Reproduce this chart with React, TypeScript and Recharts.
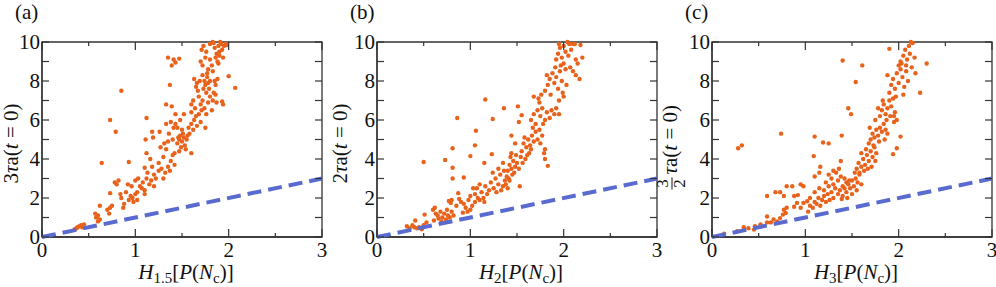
import React from "react";
import { Label, ReferenceArea, Scatter, ScatterChart, XAxis, YAxis } from "recharts";

type Pt = [number, number];

const xTicks = [0, 0.5, 1, 1.5, 2, 2.5, 3];
const yTicks = [0, 1, 2, 3, 4, 5, 6, 7, 8, 9, 10];
const diagonal = [
  { x: 0, y: 0 },
  { x: 3, y: 3 },
];

// (a) 3τa(t=0) vs H_1.5
const pointsA: Pt[] = [
  [0.35, 0.4], [0.37, 0.45], [0.38, 0.5], [0.4, 0.55], [0.42, 0.6], [0.43, 0.5], [0.45, 0.65],
  [0.57, 1.2], [0.58, 1.0], [0.6, 1.1], [0.62, 0.9], [0.6, 0.8], [0.62, 1.6], [0.7, 1.4], [0.72, 1.2],
  [0.75, 1.6], [0.73, 1.5], [0.73, 2.25], [0.78, 2.8], [0.8, 2.7], [0.82, 2.9],
  [0.85, 2.0], [0.87, 1.5], [0.9, 2.3], [0.93, 1.9], [0.95, 2.1], [0.97, 2.0], [1.0, 2.2], [1.02, 1.9],
  [0.98, 1.8], [0.96, 2.6], [1.0, 2.9], [1.03, 3.0], [0.92, 2.7], [0.88, 1.7], [0.84, 2.2],
  [0.73, 6.0], [0.79, 5.4], [0.85, 7.5], [0.64, 3.8], [0.93, 3.85],
  [1.02, 2.3], [1.05, 2.6], [1.08, 2.8], [1.1, 2.4], [1.12, 3.0], [1.15, 2.7], [1.1, 2.2], [1.07, 2.5],
  [1.13, 3.3], [1.17, 2.9], [1.18, 3.6], [1.2, 3.2], [1.22, 3.0], [1.25, 3.4], [1.2, 2.6],
  [1.11, 5.0], [1.12, 4.3], [1.12, 6.1], [1.19, 5.1], [1.1, 3.55], [1.16, 4.0], [1.18, 5.4],
  [1.25, 3.8], [1.28, 3.5], [1.3, 4.1], [1.32, 3.3], [1.35, 3.6], [1.38, 3.9], [1.4, 4.2], [1.37, 3.4],
  [1.33, 4.5], [1.42, 3.7], [1.3, 3.0], [1.27, 4.6],
  [1.26, 5.4], [1.33, 6.8], [1.39, 6.7], [1.35, 9.2], [1.37, 7.8], [1.41, 9.1], [1.47, 9.15], [1.39, 8.8], [1.43, 8.95],
  [1.45, 4.8], [1.47, 5.0], [1.48, 5.2], [1.5, 4.9], [1.52, 5.1], [1.53, 4.7], [1.55, 5.0], [1.49, 4.6],
  [1.51, 5.3], [1.46, 5.1], [1.54, 4.5], [1.5, 5.5], [1.47, 4.4], [1.56, 5.2], [1.43, 5.8], [1.45, 5.6],
  [1.48, 6.0], [1.4, 5.0], [1.42, 4.3], [1.52, 6.3],
  [1.33, 5.8], [1.38, 5.9], [1.36, 5.3], [1.41, 5.6], [1.43, 6.3], [1.35, 4.9], [1.31, 4.8],
  [1.57, 5.6], [1.6, 5.8], [1.62, 5.5], [1.63, 6.0], [1.65, 6.2], [1.6, 6.4], [1.58, 5.3], [1.66, 5.7],
  [1.64, 6.6], [1.68, 6.3], [1.7, 5.9], [1.62, 7.0], [1.6, 6.8], [1.75, 5.6], [1.76, 6.3], [1.6, 4.3],
  [1.68, 7.2], [1.7, 6.8], [1.72, 7.0], [1.74, 6.6], [1.76, 7.4], [1.78, 6.9], [1.8, 7.2], [1.82, 6.5],
  [1.73, 7.6], [1.75, 7.8], [1.71, 6.5], [1.79, 7.6], [1.83, 7.0], [1.86, 7.3], [1.87, 6.9],
  [1.63, 8.1], [1.65, 7.7], [1.67, 7.5], [1.69, 8.0], [1.72, 8.3], [1.74, 8.0], [1.77, 8.4], [1.66, 7.9],
  [1.7, 9.0], [1.72, 8.8], [1.75, 9.2], [1.78, 8.6], [1.8, 9.1], [1.83, 8.5], [1.77, 8.2], [1.82, 8.8],
  [1.71, 9.6], [1.73, 9.8], [1.76, 9.5], [1.8, 9.9], [1.83, 10.0], [1.85, 9.7], [1.87, 9.4], [1.89, 9.8],
  [1.9, 9.5], [1.92, 9.9], [1.86, 9.2], [1.88, 9.0], [1.9, 9.3], [1.93, 9.6], [1.95, 9.8], [1.97, 9.9],
  [1.84, 9.95], [1.91, 10.0], [1.94, 9.2], [1.89, 8.9],
  [1.98, 9.85], [2.0, 8.25], [2.07, 7.65], [1.93, 6.95], [1.94, 6.8], [1.86, 7.8], [1.88, 8.1],
  [1.84, 7.4], [1.85, 8.0], [1.8, 8.0], [1.78, 7.9],
];

// (b) 2τa(t=0) vs H_2
const pointsB: Pt[] = [
  [0.32, 0.55], [0.35, 0.45], [0.4, 0.5], [0.43, 0.45], [0.45, 0.5], [0.5, 0.6], [0.48, 0.4], [0.38, 0.6],
  [0.41, 0.85], [0.53, 0.75], [0.5, 3.85], [0.51, 1.15],
  [0.6, 1.4], [0.62, 1.5], [0.63, 1.2], [0.65, 1.1], [0.66, 0.95], [0.68, 1.3], [0.7, 1.0], [0.72, 1.2],
  [0.74, 0.9], [0.76, 1.1], [0.78, 1.0], [0.8, 1.3], [0.82, 1.1], [0.61, 0.85], [0.69, 0.8], [0.75, 1.4],
  [0.77, 1.85], [0.8, 1.9], [0.79, 1.75],
  [0.87, 2.25], [0.88, 1.95], [0.9, 1.8], [0.85, 1.6], [0.93, 1.7], [0.95, 1.5], [0.97, 1.3], [0.92, 1.25],
  [1.0, 1.4], [1.02, 1.6], [0.98, 1.9], [1.0, 2.1], [1.05, 1.8],
  [0.73, 3.95], [0.81, 4.55], [0.81, 3.55], [0.81, 3.0], [0.93, 3.05], [0.86, 6.1], [1.0, 4.15],
  [1.05, 4.7], [1.06, 5.45], [1.16, 7.05], [1.24, 6.05], [1.23, 4.25], [1.15, 3.8],
  [1.05, 2.2], [1.07, 2.5], [1.1, 1.9], [1.12, 2.3], [1.14, 2.0], [1.16, 2.6], [1.18, 2.2], [1.2, 2.4],
  [1.1, 2.7], [1.08, 2.0], [1.15, 1.8], [1.03, 2.5],
  [1.22, 2.8], [1.25, 2.5], [1.27, 3.0], [1.3, 2.7], [1.32, 3.2], [1.35, 2.6], [1.37, 2.9], [1.39, 3.1],
  [1.4, 2.5], [1.28, 2.3], [1.33, 2.4], [1.36, 3.4], [1.24, 3.3], [1.38, 2.7], [1.42, 2.9], [1.3, 3.5],
  [1.4, 3.4], [1.42, 3.7], [1.44, 3.5], [1.46, 3.9], [1.48, 3.6], [1.45, 3.2], [1.5, 3.8], [1.43, 4.1],
  [1.47, 3.3], [1.49, 4.2], [1.41, 3.0], [1.52, 3.5], [1.53, 2.6], [1.35, 3.8],
  [1.36, 6.6], [1.51, 6.7], [1.44, 5.2], [1.44, 4.3], [1.52, 5.9], [1.55, 6.25], [1.48, 4.8],
  [1.55, 4.4], [1.57, 4.8], [1.6, 4.6], [1.62, 5.0], [1.64, 4.7], [1.66, 5.2], [1.68, 4.9], [1.7, 5.4],
  [1.58, 5.1], [1.61, 4.2], [1.65, 4.5], [1.72, 5.0], [1.74, 5.5], [1.67, 5.6], [1.59, 4.0], [1.63, 4.3],
  [1.75, 4.8], [1.77, 5.2], [1.56, 3.8], [1.54, 4.1],
  [1.79, 4.3], [1.8, 4.0], [1.83, 3.65], [1.8, 4.5],
  [1.65, 6.0], [1.68, 6.3], [1.7, 5.8], [1.72, 6.5], [1.75, 6.2], [1.77, 6.6], [1.8, 6.0], [1.82, 6.4],
  [1.85, 6.1], [1.87, 6.5], [1.9, 6.3], [1.92, 6.6], [1.95, 6.3], [1.78, 5.8], [1.74, 6.9],
  [1.68, 7.2], [1.73, 7.1], [1.76, 7.3],
  [1.8, 7.5], [1.83, 7.8], [1.85, 8.1], [1.88, 8.4], [1.9, 7.9], [1.92, 8.2], [1.94, 7.6], [1.96, 8.5],
  [1.98, 8.0], [1.82, 8.3], [1.86, 7.3], [1.91, 8.7], [1.99, 7.4], [2.0, 7.2], [1.95, 7.0],
  [1.92, 9.1], [1.94, 9.4], [1.96, 9.7], [1.98, 9.2], [2.0, 9.8], [2.02, 9.5], [2.04, 10.0], [2.06, 9.9],
  [2.08, 9.6], [2.0, 8.9], [1.97, 8.8], [2.05, 9.3], [2.1, 9.9], [2.12, 9.9], [2.18, 9.85], [1.95, 9.9],
  [2.07, 8.7], [2.1, 8.5], [2.13, 9.1], [2.15, 8.9], [2.17, 8.1], [2.2, 9.2], [2.13, 8.3], [2.02, 8.6],
  [2.03, 7.8],
];

// (c) (3/2)τa(t=0) vs H_3
const pointsC: Pt[] = [
  [0.13, 0.17], [0.27, 0.3], [0.34, 0.5], [0.39, 0.45], [0.46, 0.55], [0.45, 0.38], [0.52, 0.65],
  [0.59, 0.75], [0.59, 1.05], [0.63, 0.75], [0.66, 0.9], [0.7, 0.8], [0.73, 0.97], [0.76, 1.15],
  [0.79, 1.23], [0.8, 1.5], [0.77, 1.4],
  [0.59, 2.1], [0.68, 2.3], [0.73, 2.3], [0.77, 2.1], [0.8, 2.6], [0.86, 2.6], [0.88, 2.1], [0.92, 2.15],
  [0.95, 2.7], [0.98, 2.6], [0.91, 1.75], [0.88, 1.55], [0.95, 1.5], [0.98, 1.75], [1.02, 1.83],
  [0.28, 4.55], [0.32, 4.7], [0.74, 5.3], [1.1, 5.15], [1.19, 4.85], [1.25, 4.8], [1.39, 5.2],
  [1.4, 9.05], [1.61, 8.8], [1.54, 7.95], [1.46, 6.6], [1.49, 6.3], [1.9, 9.65], [2.3, 8.9], [2.23, 7.4],
  [1.09, 4.15], [1.16, 3.6], [1.15, 3.3], [1.1, 3.1],
  [1.03, 1.3], [1.05, 1.6], [1.08, 1.5], [1.1, 1.8], [1.12, 1.7], [1.14, 2.0], [1.16, 1.6], [1.18, 1.9],
  [1.2, 2.1], [1.22, 1.8], [1.24, 2.2], [1.26, 1.9], [1.28, 2.3], [1.3, 2.0], [1.1, 2.3], [1.15, 2.5],
  [1.2, 2.4], [1.05, 2.0], [1.25, 2.6],
  [1.22, 2.8], [1.25, 3.2], [1.28, 3.0], [1.3, 2.7], [1.33, 3.3], [1.35, 2.9], [1.38, 3.1], [1.4, 2.6],
  [1.32, 2.5], [1.36, 3.5], [1.42, 3.0], [1.44, 2.8], [1.38, 3.9], [1.3, 3.4],
  [1.35, 2.2], [1.37, 2.4], [1.4, 2.1], [1.42, 2.5], [1.44, 2.3], [1.46, 2.7], [1.48, 2.5], [1.5, 2.9],
  [1.52, 2.6], [1.54, 3.0], [1.56, 2.8], [1.58, 3.2], [1.45, 2.0], [1.5, 2.2], [1.55, 2.4], [1.6, 2.7],
  [1.39, 1.95], [1.47, 2.9], [1.53, 3.3],
  [1.55, 3.5], [1.57, 3.8], [1.6, 3.6], [1.62, 4.0], [1.64, 3.7], [1.66, 4.2], [1.68, 3.9], [1.7, 4.4],
  [1.72, 4.1], [1.74, 4.6], [1.58, 3.3], [1.63, 3.4], [1.67, 3.5], [1.75, 3.9], [1.71, 3.6], [1.6, 4.3],
  [1.65, 4.5], [1.76, 4.3],
  [1.68, 4.8], [1.7, 5.0], [1.72, 5.3], [1.74, 5.1], [1.76, 5.5], [1.78, 5.2], [1.8, 5.6], [1.82, 5.4],
  [1.84, 5.8], [1.86, 5.5], [1.73, 4.7], [1.79, 4.9], [1.85, 5.0], [1.88, 5.3], [1.69, 5.6], [1.75, 6.0],
  [1.8, 6.2], [1.82, 6.5], [1.84, 6.8], [1.86, 6.3], [1.88, 6.6], [1.9, 7.0], [1.92, 6.7], [1.94, 7.1],
  [1.87, 6.0], [1.91, 6.2], [1.83, 7.0], [1.78, 6.6], [1.96, 6.4], [1.98, 6.0], [1.95, 5.9],
  [1.95, 6.2], [2.02, 5.15], [1.98, 4.55], [1.94, 4.25],
  [1.9, 7.4], [1.92, 7.8], [1.94, 8.1], [1.96, 7.6], [1.98, 8.4], [2.0, 7.9], [2.02, 8.6], [2.04, 8.2],
  [2.06, 7.7], [1.88, 8.3], [2.0, 8.8], [2.08, 8.5], [2.1, 8.0], [2.05, 7.3], [1.97, 7.2],
  [2.02, 9.0], [2.05, 9.3], [2.07, 9.6], [2.09, 9.1], [2.11, 9.8], [2.13, 10.0], [2.15, 9.95], [2.12, 9.4],
  [2.17, 9.2], [2.03, 8.9], [2.08, 8.8], [2.14, 8.7], [2.18, 8.4],
];

const ORANGE = "#e8621b";
const BLUE = "#5a6bd0";
const INK = "#333333";
const SERIF = '"Liberation Serif", "Times New Roman", "DejaVu Serif", serif';
const FS = 21;
const txt = { fontFamily: SERIF, fontSize: FS };
// plot box size, same in all three panels
const PLOT_W = 280;
const PLOT_H = 195;

const toRows = (pts: Pt[]) => pts.map(([x, y]) => ({ x, y }));

const Dot = (props: any) => <circle cx={props.cx} cy={props.cy} r={2.2} fill={ORANGE} />;
const NoDot = () => <g />;

// bottom axis tick, mirrored on the top edge of the box
function XTick({ x, y, payload }: any) {
  const len = Number.isInteger(payload.value) ? 8 : 4;
  return (
    <g>
      <line x1={x} x2={x} y1={y} y2={y - len} stroke={INK} strokeWidth={1.2} />
      <line x1={x} x2={x} y1={y - PLOT_H} y2={y - PLOT_H + len} stroke={INK} strokeWidth={1.2} />
      {len === 8 && (
        <text x={x} y={y + 20} textAnchor="middle" style={txt} fill="#111">
          {payload.value}
        </text>
      )}
    </g>
  );
}

// left axis tick, mirrored on the right edge of the box
function YTick({ x, y, payload }: any) {
  return (
    <g>
      <line x1={x} x2={x + 7} y1={y} y2={y} stroke={INK} strokeWidth={1.2} />
      <line x1={x + PLOT_W} x2={x + PLOT_W - 7} y1={y} y2={y} stroke={INK} strokeWidth={1.2} />
      {payload.value % 2 === 0 && (
        <text x={x - 2} y={y + 7} textAnchor="end" style={txt} fill="#111">
          {payload.value}
        </text>
      )}
    </g>
  );
}

const it = { fontStyle: "italic" as const };

function XTitle({ sub }: { sub: string }) {
  return (
    <>
      <tspan style={it}>H</tspan>
      <tspan dy={4} fontSize={15}>{sub}</tspan>
      <tspan dy={-4}>[</tspan>
      <tspan style={it}>P</tspan>
      <tspan>(</tspan>
      <tspan style={it}>N</tspan>
      <tspan dy={4} fontSize={15}>c</tspan>
      <tspan dy={-4}>)]</tspan>
    </>
  );
}

function TauA() {
  return (
    <>
      <tspan style={it}>τ</tspan>
      <tspan>a(</tspan>
      <tspan style={it}>t</tspan>
      <tspan> = 0)</tspan>
    </>
  );
}

type PanelProps = {
  letter: string;
  points: Pt[];
  left: number;
  width: number;
  axisWidth: number;
  marginRight: number;
  sub: string;
  coeff: string;
  baseline: number;
};

function Panel({ letter, points, left, width, axisWidth, marginRight, sub, coeff, baseline }: PanelProps) {
  const rows = toRows(points);
  return (
    <div style={{ position: "absolute", left, top: 0 }}>
      <ScatterChart width={width} height={287} margin={{ top: 42, right: marginRight, bottom: 0, left: 0 }}>
        <XAxis
          type="number"
          dataKey="x"
          domain={[0, 3]}
          ticks={xTicks}
          interval={0}
          height={50}
          tickSize={0}
          tickMargin={0}
          tickLine={false}
          axisLine={{ stroke: INK, strokeWidth: 1.3 }}
          tick={<XTick />}
        >
          <Label
            content={({ viewBox }: any) => (
              <text x={viewBox.x + viewBox.width / 2 + 4} y={viewBox.y + 42} textAnchor="middle" style={txt} fill="#111">
                <XTitle sub={sub} />
              </text>
            )}
          />
        </XAxis>
        <YAxis
          type="number"
          dataKey="y"
          domain={[0, 10]}
          ticks={yTicks}
          interval={0}
          width={axisWidth}
          tickSize={0}
          tickMargin={0}
          tickLine={false}
          axisLine={{ stroke: INK, strokeWidth: 1.3 }}
          tick={<YTick />}
        >
          <Label
            content={({ viewBox }: any) => {
              const cy = viewBox.y + viewBox.height / 2 + 4;
              return (
                <g>
                  <text x={viewBox.x + viewBox.width - 27} y={19} style={txt} fill="#111">
                    {letter}
                  </text>
                  <g transform={`translate(${baseline}, ${cy}) rotate(-90)`}>
                    {coeff === "3/2" ? (
                      <>
                        <text x={-40} y={-9} textAnchor="middle" style={{ fontFamily: SERIF, fontSize: 17 }} fill="#111">3</text>
                        <line x1={-46} x2={-34} y1={-5} y2={-5} stroke="#111" strokeWidth={1} />
                        <text x={-40} y={8} textAnchor="middle" style={{ fontFamily: SERIF, fontSize: 17 }} fill="#111">2</text>
                        <text x={-31} y={0} style={txt} fill="#111">
                          <TauA />
                        </text>
                      </>
                    ) : (
                      <text x={0} y={0} textAnchor="middle" style={txt} fill="#111">
                        <tspan>{coeff}</tspan>
                        <TauA />
                      </text>
                    )}
                  </g>
                </g>
              );
            }}
          />
        </YAxis>
        <ReferenceArea x1={0} x2={3} y1={0} y2={10} fill="none" stroke={INK} strokeWidth={1.3} ifOverflow="visible" />
        <Scatter data={rows} shape={Dot} isAnimationActive={false} />
        <Scatter
          data={diagonal}
          shape={NoDot}
          line={{ stroke: BLUE, strokeWidth: 4, strokeDasharray: "14 7" }}
          isAnimationActive={false}
        />
      </ScatterChart>
    </div>
  );
}

export default function App() {
  return (
    <div style={{ position: "absolute", left: 0, top: 0, width: 996, height: 287, background: "#fff", overflow: "hidden" }}>
      <Panel letter="(a)" points={pointsA} left={0} width={340} axisWidth={42} marginRight={18} sub="1.5" coeff="3" baseline={18} />
      <Panel letter="(b)" points={pointsB} left={325} width={345} axisWidth={52} marginRight={13} sub="2" coeff="2" baseline={22} />
      <Panel letter="(c)" points={pointsC} left={648} width={348} axisWidth={64} marginRight={4} sub="3" coeff="3/2" baseline={29} />
    </div>
  );
}
